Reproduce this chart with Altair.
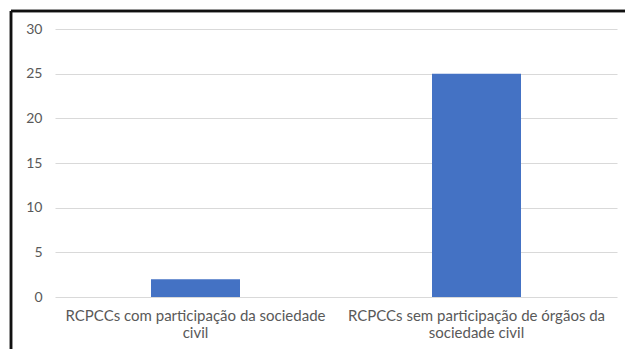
import altair as alt
import pandas as pd

# Categories (wrapped onto two lines) and their counts
categories = [
    "RCPCCs com participação da sociedade civil",
    "RCPCCs sem participação de órgãos da sociedade civil",
]
category_lines = [
    ["RCPCCs com participação da sociedade", "civil"],
    ["RCPCCs sem participação de órgãos da", "sociedade civil"],
]
counts = [2, 25]
y_ticks = [0, 5, 10, 15, 20, 25, 30]

df = pd.DataFrame({"categoria": categories, "valor": counts})

label_expr = "{" + ", ".join(
    f'"{c}": {lines!r}'.replace("'", '"') for c, lines in zip(categories, category_lines)
) + "}[datum.value]"

W, H = 562, 268
FONT = "Lato"

bars = alt.Chart(df).mark_bar(color="#4472C4", width=alt.RelativeBandSize(89 / 281)).encode(
    x=alt.X(
        "categoria:N",
        sort=categories,
        scale=alt.Scale(paddingInner=0, paddingOuter=0),
        axis=alt.Axis(
            title=None,
            labelAngle=0,
            labelExpr=label_expr,
            labelFont=FONT,
            labelFontSize=15,
            labelLimit=0,
            labelColor="#595959",
            labelPadding=11,
            labelLineHeight=17,
            ticks=False,
            domain=False,
            grid=False,
        ),
    ),
    y=alt.Y(
        "valor:Q",
        scale=alt.Scale(domain=[0, 30], nice=False),
        axis=alt.Axis(
            title=None,
            values=y_ticks,
            labelFont=FONT,
            labelFontSize=14,
            labelColor="#595959",
            labelPadding=13,
            ticks=False,
            domain=False,
            gridColor="#D9D9D9",
            gridWidth=1.2,
        ),
    ),
)

# Dark frame along the top and left edges
frame_top = alt.Chart(df).mark_rule(color="#111111", strokeWidth=2.5).encode(
    x=alt.value(-44), x2=alt.value(W + 20), y=alt.value(-18)
)
frame_left = alt.Chart(df).mark_rule(color="#111111", strokeWidth=2.5).encode(
    x=alt.value(-44), y=alt.value(-18), y2=alt.value(H + 60)
)

chart = (
    alt.layer(bars, frame_top, frame_left)
    .properties(
        width=W,
        height=H,
        autosize=alt.AutoSizeParams(type="none"),
        padding={"left": 55, "top": 29, "right": 8, "bottom": 52},
        background="white",
    )
    .configure_view(stroke=None)
)

chart.save("out.html", embed_options={"renderer": "svg", "actions": False})
